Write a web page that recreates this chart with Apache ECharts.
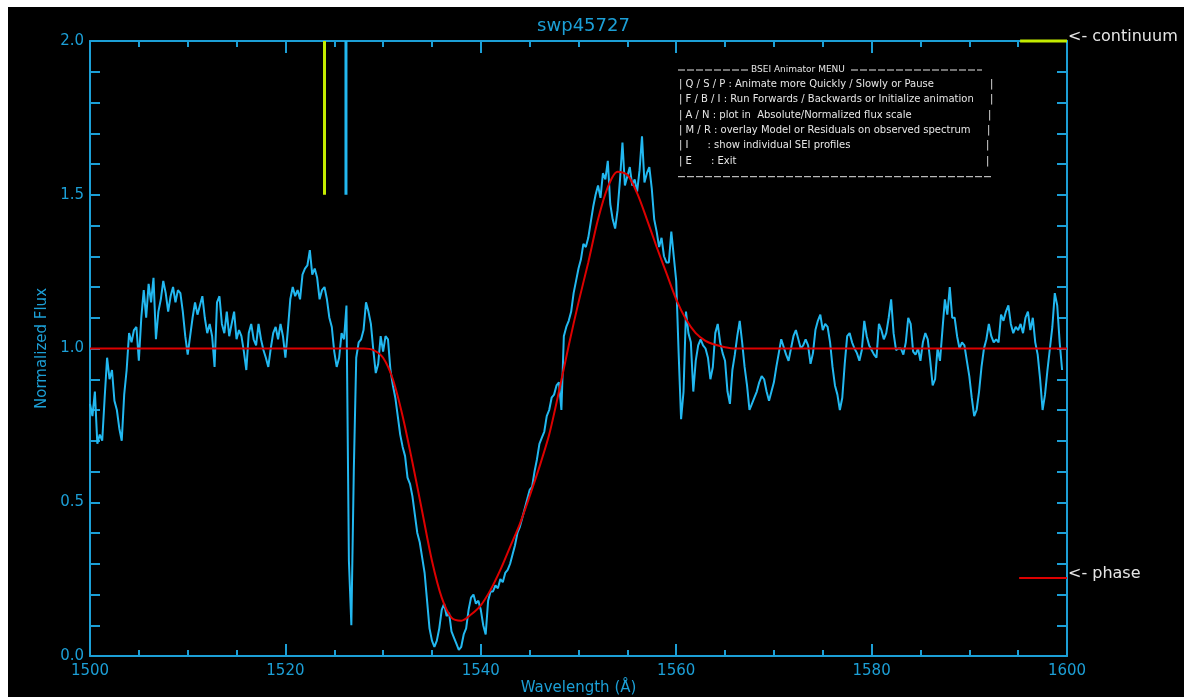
<!DOCTYPE html>
<html>
<head>
<meta charset="UTF-8">
<title>swp45727</title>
<script src="https://cdn.jsdelivr.net/npm/echarts@6/dist/echarts.min.js"></script>
<style>
html, body { margin: 0; padding: 0; background: #fff; }
#main { position: absolute; left: 8px; top: 7px; width: 1176px; height: 690px; background: #000; }
</style>
</head>
<body>
<div id="main"></div>
<script>
// observed spectrum, one value every 0.25 A from 1500
var waveStart = 1500;
var waveStep = 0.25;
var flux = [
  0.82, 0.78, 0.86, 0.69, 0.72, 0.70, 0.84, 0.97, 0.90, 0.93, 0.83, 0.80, 0.74, 0.70, 0.85, 0.93, 1.05, 1.02, 1.06, 1.07,
  0.96, 1.10, 1.19, 1.10, 1.21, 1.15, 1.23, 1.03, 1.12, 1.16, 1.22, 1.18, 1.12, 1.17, 1.20, 1.15, 1.19, 1.18, 1.12, 1.04,
  0.98, 1.04, 1.10, 1.15, 1.11, 1.14, 1.17, 1.10, 1.05, 1.08, 1.04, 0.94, 1.15, 1.17, 1.08, 1.05, 1.12, 1.04, 1.08, 1.12,
  1.03, 1.06, 1.04, 0.99, 0.93, 1.05, 1.08, 1.03, 1.01, 1.08, 1.03, 0.995, 0.97, 0.94, 1.00, 1.05, 1.07, 1.03, 1.08, 1.04,
  0.97, 1.06, 1.16, 1.20, 1.17, 1.19, 1.16, 1.24, 1.26, 1.27, 1.32, 1.24, 1.26, 1.23, 1.16, 1.19, 1.20, 1.16, 1.10, 1.07,
  0.99, 0.94, 0.97, 1.05, 1.03, 1.14, 0.31, 0.10, 0.60, 0.97, 1.02, 1.03, 1.06, 1.15, 1.12, 1.08, 0.995, 0.92, 0.95, 1.04,
  0.99, 1.04, 1.03, 0.93, 0.88, 0.84, 0.78, 0.72, 0.68, 0.65, 0.58, 0.56, 0.52, 0.46, 0.40, 0.37, 0.32, 0.27, 0.18, 0.09,
  0.05, 0.03, 0.05, 0.09, 0.15, 0.17, 0.13, 0.14, 0.08, 0.06, 0.04, 0.02, 0.03, 0.07, 0.09, 0.15, 0.19, 0.20, 0.17, 0.18,
  0.15, 0.10, 0.07, 0.18, 0.21, 0.21, 0.23, 0.22, 0.25, 0.24, 0.27, 0.28, 0.30, 0.33, 0.36, 0.40, 0.42, 0.45, 0.48, 0.51,
  0.54, 0.55, 0.60, 0.64, 0.69, 0.71, 0.73, 0.78, 0.80, 0.84, 0.85, 0.88, 0.89, 0.80, 1.04, 1.07, 1.09, 1.12, 1.18, 1.22,
  1.26, 1.29, 1.34, 1.33, 1.36, 1.41, 1.46, 1.50, 1.53, 1.49, 1.57, 1.55, 1.61, 1.47, 1.42, 1.39, 1.45, 1.55, 1.67, 1.53,
  1.56, 1.59, 1.53, 1.55, 1.51, 1.58, 1.69, 1.54, 1.57, 1.59, 1.52, 1.42, 1.38, 1.33, 1.36, 1.30, 1.28, 1.28, 1.38, 1.30,
  1.22, 0.985, 0.77, 0.86, 1.12, 1.05, 1.02, 0.86, 0.96, 1.01, 1.03, 1.01, 1.00, 0.97, 0.90, 0.94, 1.05, 1.08, 1.02, 0.985,
  0.96, 0.86, 0.82, 0.93, 0.98, 1.04, 1.09, 1.02, 0.94, 0.88, 0.80, 0.82, 0.84, 0.86, 0.89, 0.91, 0.90, 0.86, 0.83, 0.86,
  0.89, 0.94, 0.985, 1.03, 1.005, 0.98, 0.96, 1.00, 1.04, 1.06, 1.03, 1.00, 1.01, 1.03, 1.01, 0.95, 0.985, 1.06, 1.09, 1.11,
  1.06, 1.08, 1.07, 1.02, 0.94, 0.88, 0.85, 0.80, 0.84, 0.95, 1.04, 1.05, 1.02, 1.00, 0.985, 0.96, 0.995, 1.09, 1.04, 1.01,
  0.995, 0.98, 0.97, 1.08, 1.06, 1.03, 1.05, 1.10, 1.16, 1.05, 0.995, 1.00, 1.00, 0.98, 1.02, 1.10, 1.08, 0.99, 0.98, 1.00,
  0.96, 1.02, 1.05, 1.03, 0.96, 0.88, 0.90, 1.00, 0.96, 1.06, 1.16, 1.11, 1.20, 1.10, 1.10, 1.04, 1.00, 1.02, 1.01, 0.96,
  0.91, 0.84, 0.78, 0.80, 0.86, 0.94, 1.00, 1.03, 1.08, 1.04, 1.02, 1.03, 1.02, 1.11, 1.09, 1.12, 1.14, 1.08, 1.05, 1.07,
  1.06, 1.08, 1.05, 1.10, 1.12, 1.06, 1.10, 1.02, 0.98, 0.90, 0.80, 0.85, 0.93, 1.00, 1.07, 1.18, 1.14, 1.02, 0.93
];

// SEI model profile
var modelWave = [1500, 1528, 1529, 1530, 1531, 1532, 1533, 1534, 1535, 1536, 1537, 1538, 1539, 1540,
  1541, 1542, 1543, 1544, 1545, 1546, 1547, 1548, 1549, 1550, 1551, 1552, 1553, 1554, 1555,
  1556, 1557, 1558, 1559, 1560, 1561, 1562, 1563, 1564, 1565, 1566, 1600];
var modelFlux = [1.0, 1.0, 0.995, 0.97, 0.90, 0.78, 0.63, 0.47, 0.31, 0.19, 0.125, 0.115, 0.135, 0.165,
  0.215, 0.28, 0.355, 0.43, 0.52, 0.615, 0.72, 0.86, 1.01, 1.15, 1.28, 1.42, 1.525, 1.575, 1.565,
  1.505, 1.42, 1.33, 1.245, 1.16, 1.095, 1.05, 1.025, 1.012, 1.004, 1.0, 1.0];

// line markers at top left
var markWave = [1524.0, 1526.2];
var markRange = [1.5, 2.0];
// side indicators
var continuumWave = [1595.2, 1600];
var continuumLevel = 2.0;
var phaseWave = [1595.1, 1600];
var phaseLevel = 0.254;

var menuHead = 'BSEI Animator MENU';
var menuRows = [
  '| Q / S / P : Animate more Quickly / Slowly or Pause',
  '| F / B / I : Run Forwards / Backwards or Initialize animation',
  '| A / N : plot in  Absolute/Normalized flux scale',
  '| M / R : overlay Model or Residuals on observed spectrum',
  '| I      : show individual SEI profiles',
  '| E      : Exit'
];

var axisColor = '#1c9fd6';
var specColor = '#22b8f0';
var redColor = '#dd0000';
var yellowColor = '#c4ec00';
var textColor = '#e6e6e6';
var fontFam = '"DejaVu Sans", sans-serif';

var specData = [];
for (var i = 0; i < flux.length; i++) {
  specData.push([waveStart + i * waveStep, flux[i]]);
}
var modelData = [];
for (var j = 0; j < modelWave.length; j++) {
  modelData.push([modelWave[j], modelFlux[j]]);
}

function xAx(pos, labels) {
  return {
    type: 'value', min: 1500, max: 1600, interval: 20, position: pos,
    axisLine: { show: true, onZero: false, lineStyle: { color: axisColor, width: 2 } },
    axisTick: { show: true, inside: true, length: 12, lineStyle: { color: axisColor, width: 2 } },
    minorTick: { show: true, splitNumber: 4, length: 6, lineStyle: { color: axisColor, width: 2 } },
    splitLine: { show: false },
    axisLabel: { show: labels, color: axisColor, fontSize: 15, margin: 8, fontFamily: fontFam,
      formatter: function (v) { return String(v); } },
    name: labels ? 'Wavelength (\u00c5)' : '',
    nameLocation: 'middle', nameGap: 25, nameMoveOverlap: false,
    nameTextStyle: { color: axisColor, fontSize: 15, fontFamily: fontFam }
  };
}
function yAx(pos, labels) {
  return {
    type: 'value', min: 0, max: 2, interval: 0.5, position: pos,
    axisLine: { show: true, onZero: false, lineStyle: { color: axisColor, width: 2 } },
    axisTick: { show: true, inside: true, length: 10, lineStyle: { color: axisColor, width: 2 } },
    minorTick: { show: true, splitNumber: 5, length: 10, lineStyle: { color: axisColor, width: 2 } },
    splitLine: { show: false },
    axisLabel: { show: labels, color: axisColor, fontSize: 15, margin: 6, fontFamily: fontFam,
      formatter: function (v) { return v.toFixed(1); } },
    name: labels ? 'Normalized Flux' : '',
    nameLocation: 'middle', nameGap: 37,
    nameTextStyle: { color: axisColor, fontSize: 15, fontFamily: fontFam }
  };
}

function seg(data, color, width, z) {
  return {
    type: 'line', data: data, showSymbol: false, symbol: 'none', clip: false, z: z,
    lineStyle: { color: color, width: width }, silent: true
  };
}

// menu box (pixel positions inside the chart div)
var menuY = [77.3, 92.3, 108, 123, 138, 154];
var barX = [982, 982, 980, 979, 978, 978];
var menuFont = '10px ' + fontFam;
var graphics = [
  { type: 'line', shape: { x1: 670, y1: 63, x2: 740, y2: 63 }, style: { stroke: textColor, lineWidth: 1, lineDash: [7, 2] } },
  { type: 'text', x: 743, y: 63, style: { text: menuHead, fill: textColor, font: '9px ' + fontFam, textVerticalAlign: 'middle' } },
  { type: 'line', shape: { x1: 843, y1: 63, x2: 974, y2: 63 }, style: { stroke: textColor, lineWidth: 1, lineDash: [7, 2] } },
  { type: 'line', shape: { x1: 670, y1: 169.7, x2: 984, y2: 169.7 }, style: { stroke: textColor, lineWidth: 1, lineDash: [7, 2] } },
  { type: 'text', x: 1060, y: 30, style: { text: '<- continuum', fill: textColor, font: '16px ' + fontFam, textVerticalAlign: 'middle' } },
  { type: 'text', x: 1060, y: 567, style: { text: '<- phase', fill: textColor, font: '16px ' + fontFam, textVerticalAlign: 'middle' } }
];
for (var k = 0; k < menuRows.length; k++) {
  graphics.push({ type: 'text', x: 671, y: menuY[k], style: { text: menuRows[k], fill: textColor, font: menuFont, textVerticalAlign: 'middle' } });
  graphics.push({ type: 'text', x: barX[k], y: menuY[k], style: { text: '|', fill: textColor, font: menuFont, textVerticalAlign: 'middle' } });
}

var myChart = echarts.init(document.getElementById('main'));
var option = {
  backgroundColor: '#000',
  animation: false,
  title: {
    text: 'swp45727', left: 570.5, top: 5, textAlign: 'center',
    textStyle: { color: axisColor, fontSize: 18, fontWeight: 'normal', fontFamily: fontFam }
  },
  grid: { left: 82, top: 34, width: 977, height: 615, containLabel: false, outerBoundsMode: 'none' },
  xAxis: [xAx('bottom', true), xAx('top', false)],
  yAxis: [yAx('left', true), yAx('right', false)],
  graphic: graphics,
  series: [
    seg(specData, specColor, 2, 2),
    {
      type: 'line', data: modelData, showSymbol: false, symbol: 'none', smooth: 0.3, z: 3,
      lineStyle: { color: redColor, width: 2 }, silent: true
    },
    seg([[markWave[0], markRange[0]], [markWave[0], markRange[1]]], yellowColor, 3, 4),
    seg([[markWave[1], markRange[0]], [markWave[1], markRange[1]]], specColor, 3, 4),
    seg([[continuumWave[0], continuumLevel], [continuumWave[1], continuumLevel]], yellowColor, 3, 4),
    seg([[phaseWave[0], phaseLevel], [phaseWave[1], phaseLevel]], redColor, 2, 4)
  ]
};
myChart.setOption(option);
</script>
</body>
</html>
